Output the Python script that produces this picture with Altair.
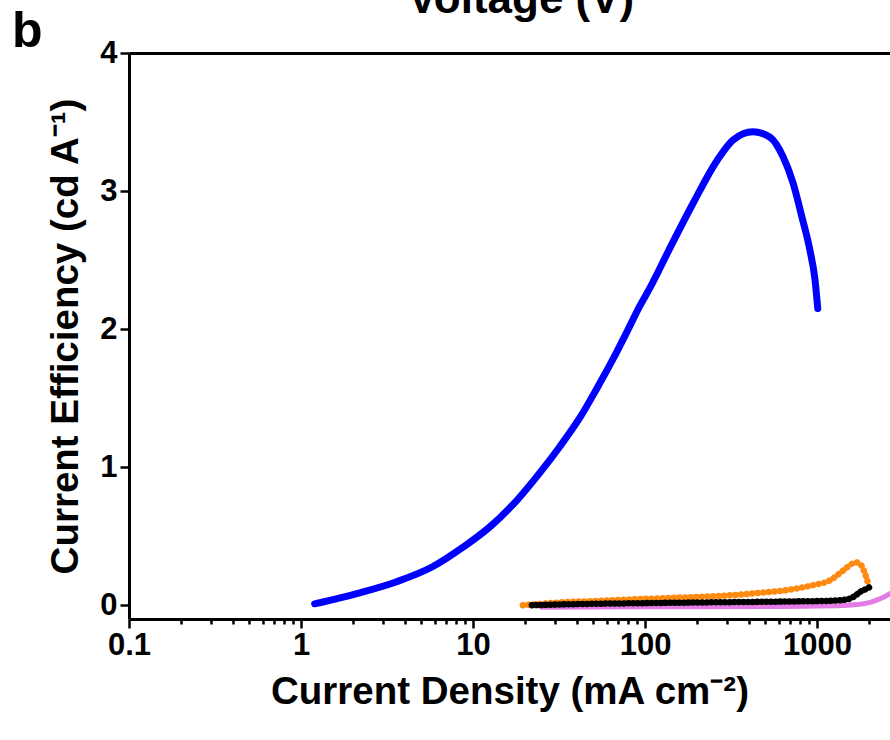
import altair as alt
import pandas as pd

# ---- data ----
blue_x = [1.2, 2.2, 3.6, 5.85, 8.75, 12.6, 18, 24.5, 32, 41.9, 52.5, 65, 78.5, 93.5,
          107, 140, 190, 262, 325, 425, 533, 634, 725, 818, 910, 973, 1010]
blue_y = [0.01, 0.09, 0.17, 0.28, 0.42, 0.57, 0.76, 0.96, 1.15, 1.36, 1.57, 1.78, 1.98, 2.17,
          2.30, 2.59, 2.91, 3.22, 3.37, 3.43, 3.39, 3.25, 3.06, 2.81, 2.57, 2.36, 2.15]

orange_x = [19.5, 25, 32, 50, 97, 200, 300, 467, 670, 949, 1190, 1416, 1597, 1700, 1778, 1900, 1980]
orange_y = [0.0, 0.01, 0.02, 0.03, 0.045, 0.06, 0.07, 0.09, 0.11, 0.145, 0.18, 0.25, 0.30, 0.31, 0.30, 0.23, 0.16]

black_x = [22, 40, 100, 300, 700, 1200, 1500, 1650, 1800, 1950, 2100]
black_y = [0.0, 0.008, 0.015, 0.022, 0.027, 0.032, 0.042, 0.065, 0.10, 0.12, 0.145]

violet_x = [25, 100, 500, 1000, 1500, 1950, 2200, 2450, 2700]
violet_y = [-0.015, -0.012, -0.01, -0.006, 0.0, 0.015, 0.035, 0.06, 0.09]

x_major = [0.1, 1, 10, 100, 1000]
x_minor = [0.2, 0.3, 0.4, 0.5, 0.6, 0.7, 0.8, 0.9,
           2, 3, 4, 5, 6, 7, 8, 9,
           20, 30, 40, 50, 60, 70, 80, 90,
           200, 300, 400, 500, 600, 700, 800, 900, 2000]
y_major = [0, 1, 2, 3, 4]
y_minor = [0.5, 1.5, 2.5, 3.5]

panel_label = ["b"]
top_title = ["Voltage (V)"]
x_title = "Current Density (mA cm⁻²)"
y_title = "Current Efficiency (cd A⁻¹)"

FONT = "Liberation Sans"


def frame(xs, ys):
    return pd.DataFrame({"x": xs, "y": ys, "i": list(range(len(xs)))})


xscale = alt.Scale(type="log", domain=[0.1, 2657], nice=False)
yscale = alt.Scale(domain=[-0.1, 4], nice=False, zero=False)

common_axis = dict(grid=False, domainColor="black", tickColor="black", labelColor="black",
                   titleColor="black")

x_axis_major = alt.Axis(values=x_major, format="~g", labelFont=FONT, labelFontSize=31,
                        labelFontWeight="bold", tickSize=9, tickWidth=2.5, domainWidth=3,
                        labelPadding=2, labelOverlap=False, labelFlush=False,
                        title=x_title, titleFont=FONT, titleFontSize=38.5, titleFontWeight="bold",
                        titleY=84, titleBaseline="alphabetic", **common_axis)
y_axis_major = alt.Axis(values=y_major, labelFont=FONT, labelFontSize=31, labelFontWeight="bold",
                        tickSize=9, tickWidth=2.5, domainWidth=3, labelPadding=3,
                        labelOverlap=False, labelFlush=False,
                        title=y_title, titleFont=FONT, titleFontSize=38.5, titleFontWeight="bold",
                        titleX=-64, titleY=283, titleAlign="center", titleBaseline="middle",
                        **common_axis)
x_axis_minor = alt.Axis(values=x_minor, labels=False, tickSize=5, tickWidth=2.5, domain=False,
                        title=None, **common_axis)
y_axis_minor = alt.Axis(values=y_minor, labels=False, tickSize=5, tickWidth=2.5, domain=False,
                        title=None, **common_axis)
x_axis_top = alt.Axis(orient="top", labels=False, ticks=False, domainWidth=3, title=None,
                      **common_axis)

violet = alt.Chart(frame(violet_x, violet_y)).mark_line(
    color="#E47BE6", strokeWidth=5, strokeCap="round", clip=True, interpolate="monotone"
).encode(
    x=alt.X("x:Q", scale=xscale, axis=x_axis_major),
    y=alt.Y("y:Q", scale=yscale, axis=y_axis_major),
    order="i:Q",
)

orange = alt.Chart(frame(orange_x, orange_y)).mark_line(
    color="#FF8A12", strokeWidth=6.5, strokeCap="round", strokeDash=[0.1, 5.5], clip=True,
    interpolate="monotone"
).encode(
    x=alt.X("x:Q", scale=xscale, axis=x_axis_top),
    y=alt.Y("y:Q", scale=yscale, axis=None),
    order="i:Q",
)

black = alt.Chart(frame(black_x, black_y)).mark_line(
    color="black", strokeWidth=6.5, strokeCap="round", strokeDash=[0.1, 4.5], clip=True,
    interpolate="monotone"
).encode(
    x=alt.X("x:Q", scale=xscale, axis=None),
    y=alt.Y("y:Q", scale=yscale, axis=None),
    order="i:Q",
)

blue = alt.Chart(frame(blue_x, blue_y)).mark_line(
    color="#0000FF", strokeWidth=7, strokeCap="round", strokeJoin="round", clip=True,
    interpolate="monotone"
).encode(
    x=alt.X("x:Q", scale=xscale, axis=x_axis_minor),
    y=alt.Y("y:Q", scale=yscale, axis=y_axis_minor),
    order="i:Q",
)

label_b = alt.Chart(pd.DataFrame({"t": panel_label})).mark_text(
    font=FONT, fontSize=50, fontWeight="bold", align="left", baseline="alphabetic", color="black"
).encode(x=alt.value(-117), y=alt.value(-6), text="t:N")

label_top = alt.Chart(pd.DataFrame({"t": top_title})).mark_text(
    font=FONT, fontSize=44, fontWeight="bold", align="center", baseline="alphabetic", color="black"
).encode(x=alt.value(392), y=alt.value(-40), text="t:N")

chart = alt.layer(violet, orange, black, blue, label_b, label_top).resolve_axis(
    x="independent", y="independent"
).properties(
    width=761, height=566,
    autosize=alt.AutoSizeParams(type="none"),
    padding={"left": 129, "top": 53, "right": 0, "bottom": 121},
    background="white",
).configure_view(stroke=None)

chart.save("out.html", embed_options={"renderer": "svg", "actions": False})
